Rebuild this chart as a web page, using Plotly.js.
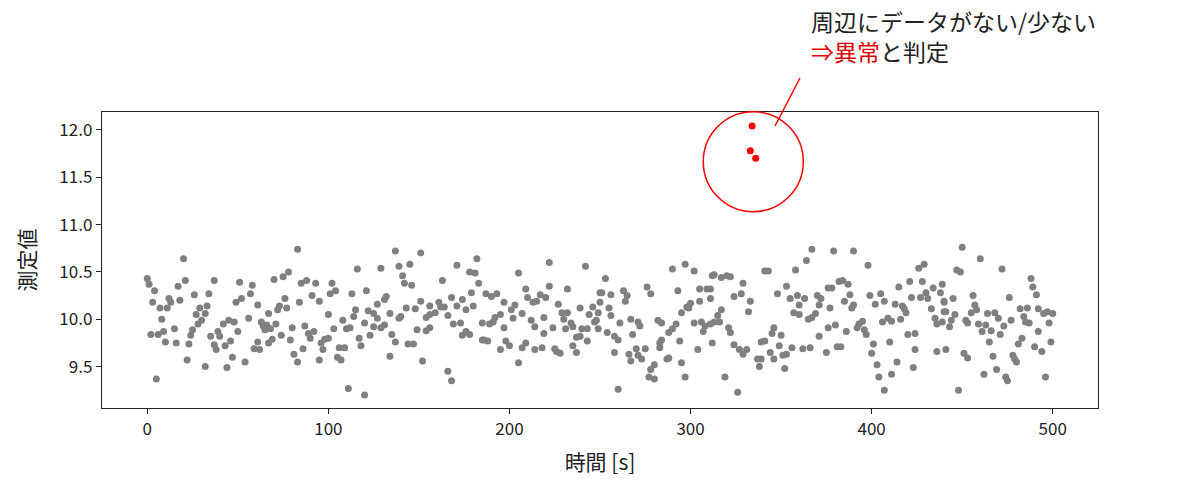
<!DOCTYPE html>
<html>
<head>
<meta charset="utf-8">
<script src="https://cdn.plot.ly/plotly-3.0.1.min.js"></script>
<style>html,body{margin:0;padding:0;background:#fff;}#chart{width:1200px;height:480px;}</style>
</head>
<body>
<div id="chart"></div>
<script>
const tA = [20,0,1,4,3,7,11,8,2,6, 9,15,10,16,5,17,21,18,12,13, 26,37,34,29,33,27,32,30,28,25, 24,23,22,32,35,39,40,37,38,42, 45,48,50,46,43,47,44,54,51,49, 52,57,58,56,59];
const vA = [10.64,10.43,10.37,10.30,10.18,10.12,10.12,10.00,9.84,9.84, 9.87,9.90,9.76,9.75,9.37,10.35,10.41,10.20,10.22,10.18, 10.26,10.41,10.27,10.12,10.14,10.05,10.06,9.99,9.95,9.89, 9.83,9.74,9.57,9.50,9.82,9.87,9.82,9.73,9.68,9.95, 9.99,9.97,9.87,9.77,9.72,9.60,9.49,9.55,10.39,10.18, 10.22,10.27,10.36,10.01,9.69];

const tB = [83,116,70,75,78,85,88,93,102,104, 101,91,95,84,113,121,76,61,73,72, 77,67,100,115,114,122,63,64,66,71, 68,65,80,87,89,92,90,103,108,110, 112,120,123,117,118,74,79,69,67,61, 62,86,81,83,96,98,100,97,95,106, 109,105,107,111,120];
const vB = [10.74,10.53,10.42,10.45,10.50,10.38,10.41,10.38,10.38,10.30, 10.27,10.25,10.19,10.18,10.27,10.30,10.22,10.15,10.14,10.10, 10.12,10.06,10.05,10.10,10.03,10.09,9.97,9.93,9.94,9.95, 9.90,9.89,9.91,9.93,9.85,9.87,9.80,9.90,9.99,9.90, 9.91,9.96,9.83,9.80,9.72,9.83,9.78,9.79,9.75,9.76, 9.68,9.69,9.63,9.55,9.75,9.79,9.80,9.68,9.57,9.70, 9.70,9.60,9.57,9.27,9.20];

const tC = [137,151,129,139,145,141,142,146,163,171, 182,178,181,183,131,132,127,125,134,127, 139,140,143,148,151,156,161,154,156,159, 162,164,166,168,174,171,176,180,179,125, 129,131,135,137,144,147,149,154,156,169, 173,174,176,178,185,185,134,152,166,168];
const vC = [10.72,10.70,10.54,10.56,10.58,10.46,10.38,10.36,10.41,10.57, 10.64,10.50,10.49,10.38,10.21,10.24,10.16,10.06,10.06,10.01, 10.01,10.03,10.12,10.11,10.19,10.14,10.18,10.02,10.05,10.07, 10.13,10.13,10.04,10.23,10.21,10.14,10.10,10.14,10.28,9.92, 9.91,9.94,9.84,9.76,9.74,9.74,9.89,9.88,9.91,9.95, 9.96,9.83,9.87,9.84,9.96,9.78,9.61,9.56,9.45,9.35];

const tD = [222,242,205,209,222,232,187,190,193,210, 213,215,217,220,197,203,227,239,246,250, 201,207,202,195,192,191,189,212,219,229, 232,230,244,249,247,197,214,224,231,234, 235,240,243,249,219,186,188,198,200,195, 209,207,214,218,225,226,228,237,239,235, 237,243,205];
const vD = [10.60,10.56,10.49,10.32,10.35,10.32,10.27,10.24,10.27,10.23, 10.18,10.19,10.26,10.23,10.18,10.15,10.16,10.12,10.13,10.28, 10.10,10.06,10.01,10.05,10.02,9.97,9.95,9.99,10.02,10.07, 10.07,10.00,10.05,10.07,9.97,9.91,9.92,9.91,9.90,9.96, 9.92,9.90,9.90,9.90,9.85,9.78,9.77,9.77,9.72,9.68, 9.75,9.70,9.68,9.70,9.69,9.66,9.64,9.81,9.82,9.72, 9.65,9.77,9.54];

const tE = [297,290,302,312,253,276,278,293,305,309, 311,251,256,263,265,264,250,255,256,248, 305,300,299,295,298,261,267,271,272,282, 284,292,290,288,302,306,308,307,311,254, 268,258,260,284,283,283,294,312,270,275, 258,266,271,273,267,288,287,295,304,280, 278,277,280,297,260];
const vE = [10.58,10.53,10.51,10.46,10.43,10.34,10.27,10.30,10.32,10.32, 10.22,10.28,10.26,10.30,10.25,10.19,10.18,10.12,10.04,9.99, 10.19,10.17,10.12,10.07,10.13,9.96,10.00,9.97,9.93,9.99, 9.96,9.95,9.90,9.86,9.96,9.97,9.93,9.87,9.95,9.86, 9.84,9.82,9.78,9.78,9.75,9.70,9.77,9.75,9.69,9.69, 9.65,9.63,9.62,9.58,9.56,9.59,9.58,9.54,9.68,9.52, 9.47,9.39,9.37,9.39,9.26];

const tF = [367,364,358,341,343,313,317,320,322,329, 353,311,324,328,333,348,355,359,363,360, 370,372,371,376,317,315,332,357,360,369, 367,365,313,316,321,322,376,346,345,350, 371,324,327,329,331,339,341,349,356,362, 366,375,344,337,339,346,351,353,338,352, 319,326];
const vF = [10.74,10.62,10.52,10.51,10.51,10.47,10.44,10.46,10.45,10.38, 10.35,10.32,10.24,10.27,10.19,10.27,10.22,10.25,10.22,10.15, 10.25,10.22,10.15,10.33,10.10,10.04,10.08,10.07,10.05,10.06, 10.02,10.00,9.97,9.97,9.91,9.86,9.91,9.91,9.85,9.83, 9.82,9.73,9.68,9.63,9.68,9.76,9.77,9.72,9.70,9.69, 9.70,9.65,9.65,9.58,9.58,9.58,9.62,9.63,9.50,9.48, 9.39,9.23];

const tG = [379,390,398,426,429,382,384,387,378,388, 385,390,389,377,399,405,402,407,415,421, 428,422,427,430,431,434,439,438,440,433, 413,417,418,419,440,435,436,439,409,411, 406,416,395,393,392,396,397,380,386,420, 424,401,410,381,383,400,424,436,441,414, 403,423,411,404,407];
const vG = [10.72,10.72,10.57,10.54,10.58,10.40,10.41,10.37,10.33,10.26, 10.19,10.15,10.12,10.12,10.25,10.27,10.16,10.19,10.34,10.40, 10.40,10.23,10.23,10.28,10.22,10.33,10.37,10.28,10.19,10.11, 10.16,10.14,10.11,10.07,10.08,10.01,9.95,9.97,10.01,9.98, 9.97,10.00,9.98,9.95,9.91,9.89,9.84,9.94,9.87,9.84, 9.85,9.74,9.76,9.71,9.71,9.64,9.68,9.66,9.68,9.55, 9.52,9.49,9.42,9.39,9.25];

const tH = [450,460,472,447,449,488,489,491,445,440, 441,456,476,457,458,455,446,444,443,452, 453,459,463,464,468,470,473,477,482,486, 492,495,497,500,484,485,487,498,461,466, 471,492,465,483,481,490,494,499,451,453, 467,478,479,480,469,462,474,475,496,448];
const vH = [10.76,10.64,10.53,10.52,10.50,10.43,10.34,10.26,10.22,10.18, 10.08,10.25,10.23,10.15,10.10,10.07,10.05,9.99,9.92,9.99, 9.96,9.95,9.94,10.06,10.07,10.01,9.93,9.99,10.11,10.12, 10.11,10.06,10.08,10.06,10.03,9.97,9.96,9.96,9.87,9.88, 9.84,9.87,9.76,9.80,9.74,9.71,9.66,9.76,9.64,9.59, 9.61,9.62,9.58,9.55,9.47,9.42,9.39,9.35,9.39,9.25];

// Anomalies (red)
const anomalyTime = [334, 333, 336];
const anomalyValue = [12.04, 11.78, 11.70];

// Axis ticks
const xTickVals = [0, 100, 200, 300, 400, 500];
const yTickVals = [9.5, 10.0, 10.5, 11.0, 11.5, 12.0];

// Texts
const xLabel = '時間 [s]';
const yLabel = '測定値';
const note1 = '周辺にデータがない/少ない';
const note2Red = '⇒異常';
const note2 = 'と判定';

const normalTime = [].concat(tA, tB, tC, tD, tE, tF, tG, tH);
const normalValue = [].concat(vA, vB, vC, vD, vE, vF, vG, vH);

const FONT = '"Noto Sans CJK JP", "Noto Sans", sans-serif';

const traces = [
  {
    type: 'scatter', mode: 'markers',
    x: normalTime, y: normalValue,
    marker: {color: '#808080', size: 7, line: {width: 0}},
    hoverinfo: 'skip', showlegend: false
  },
  {
    type: 'scatter', mode: 'markers',
    x: anomalyTime, y: anomalyValue,
    marker: {color: '#ff0000', size: 7, line: {width: 0}},
    hoverinfo: 'skip', showlegend: false
  }
];

// plot area geometry in pixels (for paper-referenced decorations)
const L = 102, R = 1098, T = 112, B = 408;
const px2x = p => (p - L) / (R - L);
const px2y = p => (B - p) / (B - T);

const layout = {
  width: 1200, height: 480,
  margin: {l: L, r: 1200 - R, t: T, b: 480 - B, pad: 0},
  paper_bgcolor: '#ffffff', plot_bgcolor: '#ffffff',
  font: {family: FONT, color: '#222222', size: 16},
  showlegend: false,
  xaxis: {
    range: [-25, 525],
    tickvals: xTickVals,
    ticks: 'outside', ticklen: 5, tickwidth: 1, tickcolor: '#222',
    showgrid: false, zeroline: false,
    showline: true, linecolor: '#222', linewidth: 1.2, mirror: true,
    tickfont: {family: FONT, size: 17, color: '#222'},
    title: {text: xLabel, font: {family: FONT, size: 21, color: '#222'}, standoff: 16}
  },
  yaxis: {
    range: [9.063, 12.189],
    tickvals: yTickVals,
    tickformat: '.1f',
    ticks: 'outside', ticklen: 5, tickwidth: 1, tickcolor: '#222',
    showgrid: false, zeroline: false,
    showline: true, linecolor: '#222', linewidth: 1.2, mirror: true,
    tickfont: {family: FONT, size: 17, color: '#222'},
    title: {text: yLabel, font: {family: FONT, size: 21, color: '#222'}, standoff: 18}
  },
  shapes: [
    {
      type: 'circle', xref: 'paper', yref: 'paper',
      xsizemode: 'pixel', ysizemode: 'pixel',
      xanchor: px2x(753.3), yanchor: px2y(161.7),
      x0: -50, x1: 50, y0: -50, y1: 50,
      line: {color: '#ff0000', width: 1.5}
    },
    {
      type: 'line', xref: 'paper', yref: 'paper',
      x0: px2x(775), y0: px2y(126), x1: px2x(800), y1: px2y(78),
      line: {color: '#ff0000', width: 1.5}
    }
  ],
  annotations: [
    {
      xref: 'paper', yref: 'paper', x: px2x(809), y: px2y(36),
      xanchor: 'left', yanchor: 'middle', align: 'left', showarrow: false,
      text: note1 + '<br>' + '<span style="color:#e00000">' + note2Red + '</span>' + note2,
      font: {family: FONT, size: 23, color: '#222'}
    }
  ]
};

Plotly.newPlot('chart', traces, layout, {staticPlot: true, displayModeBar: false});
</script>
</body>
</html>
